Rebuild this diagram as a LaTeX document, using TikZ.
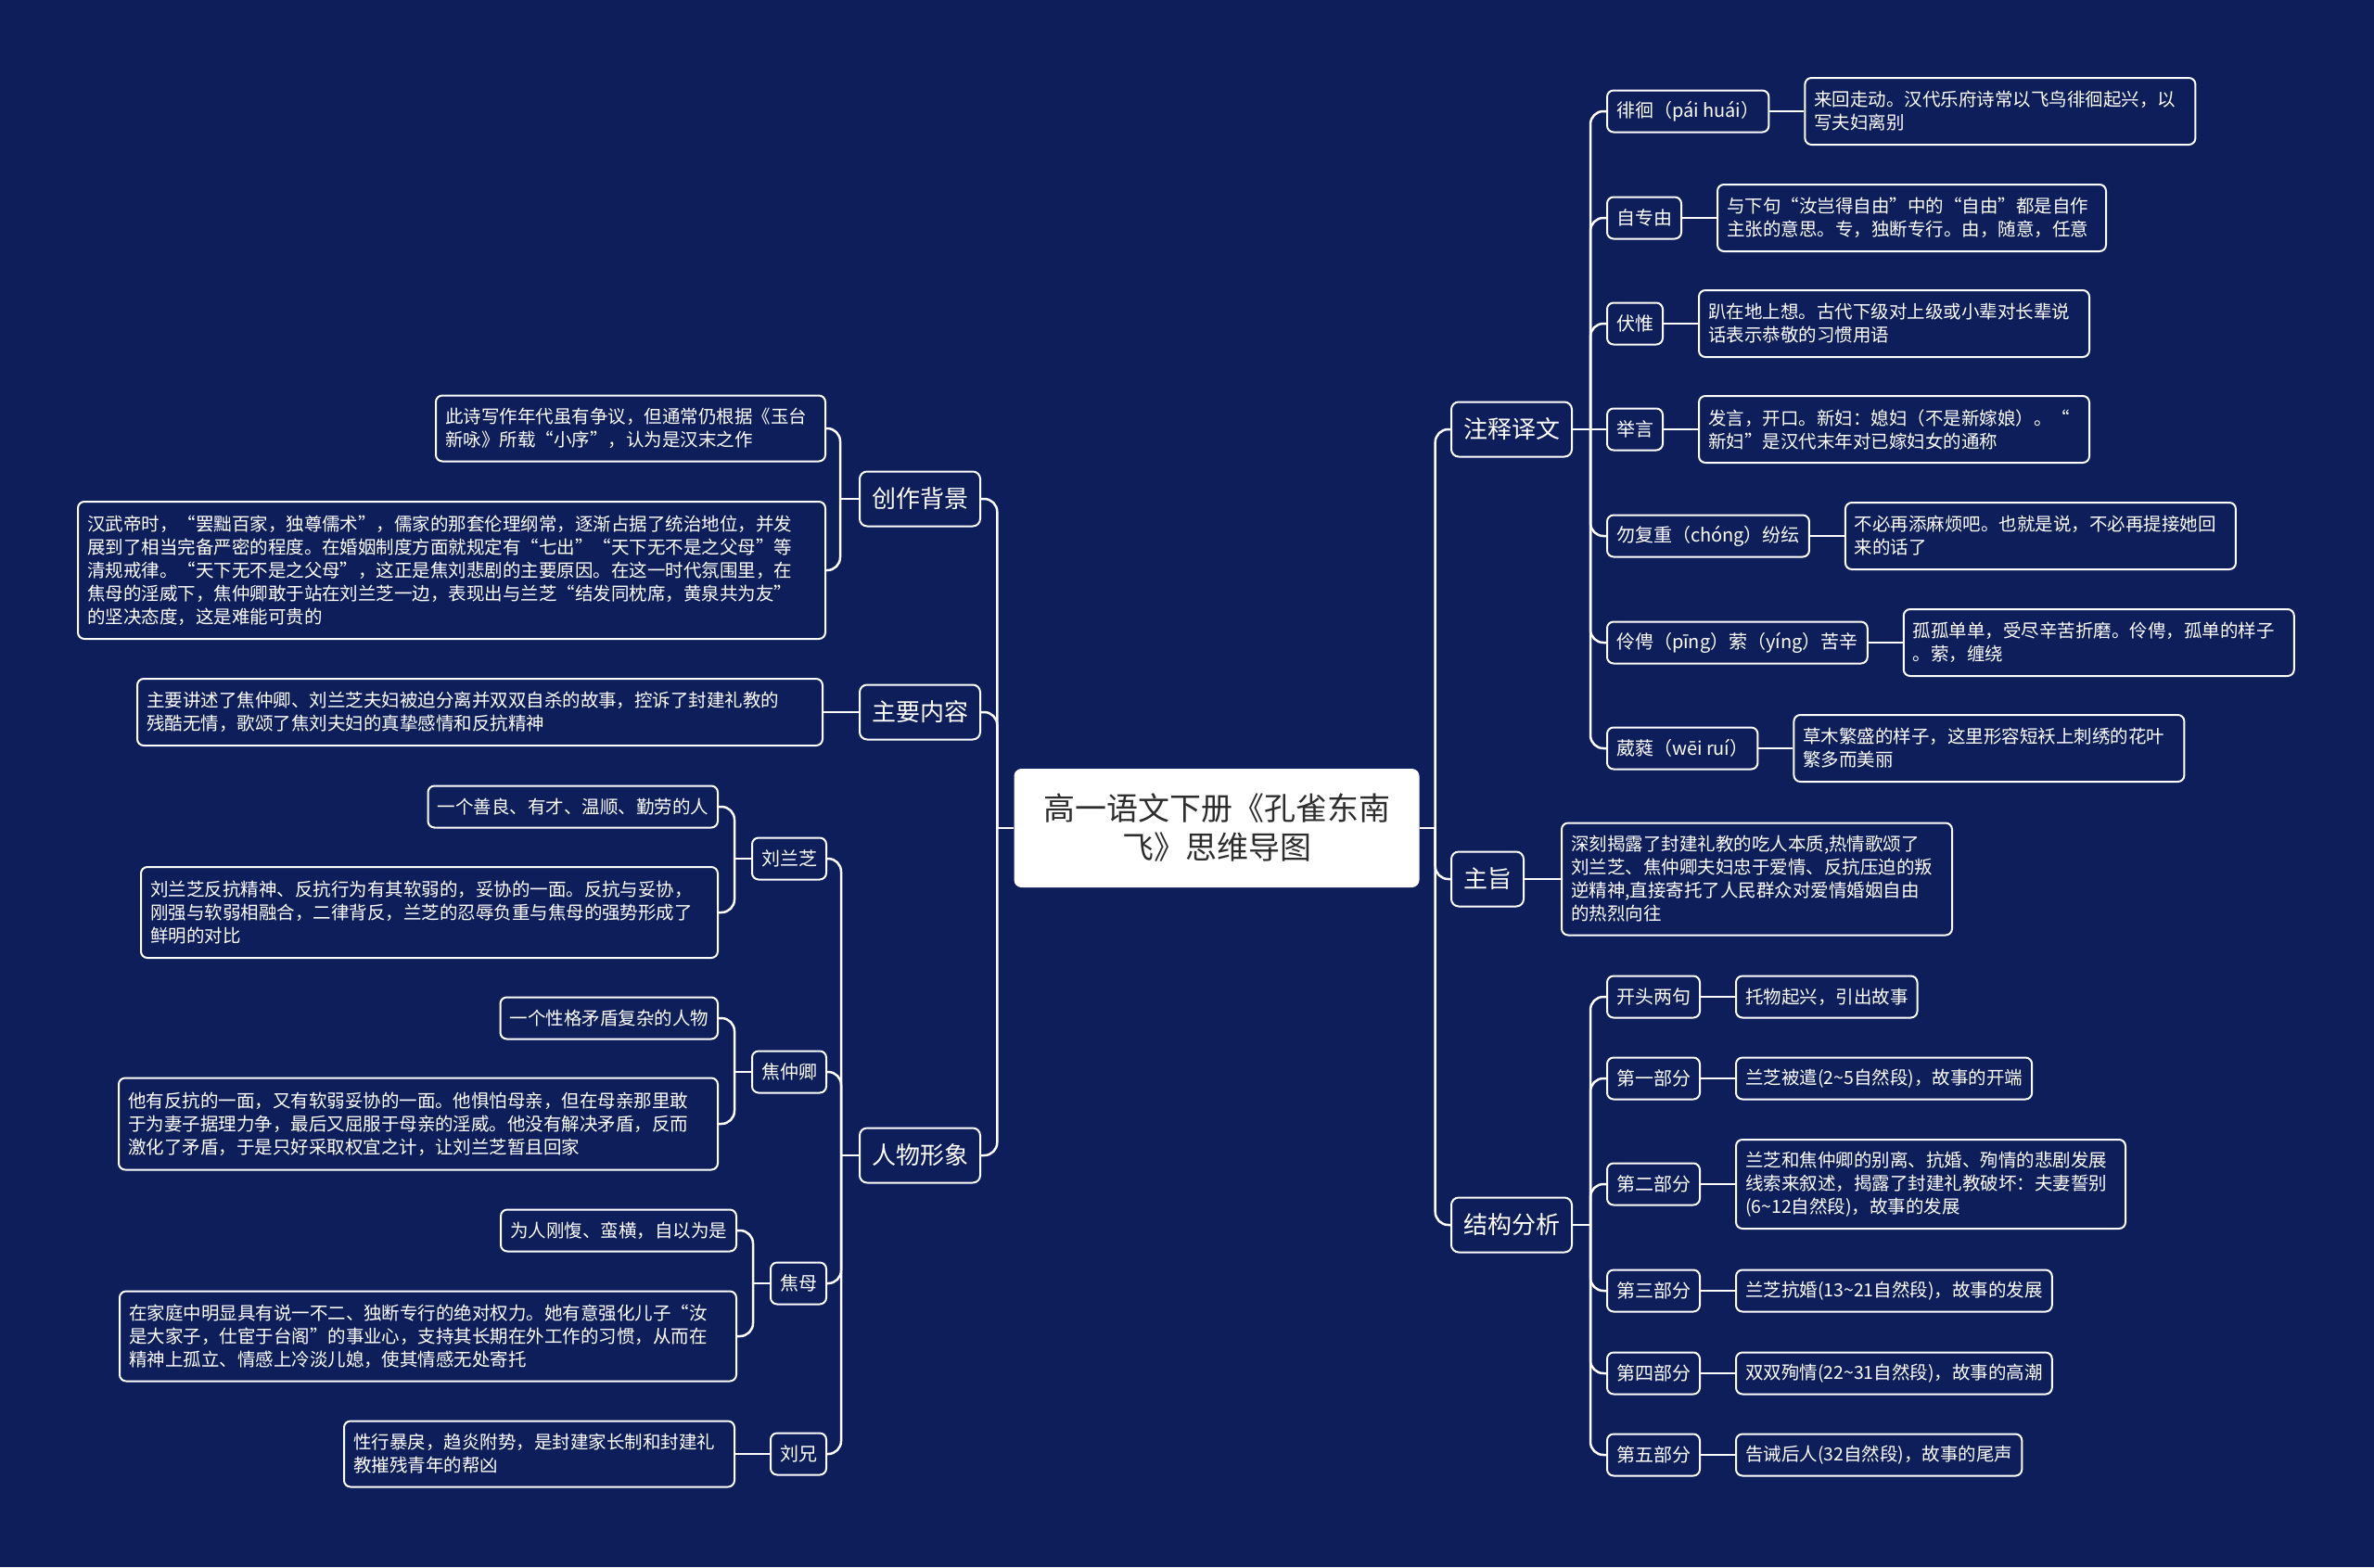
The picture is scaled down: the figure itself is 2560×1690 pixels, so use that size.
\documentclass[tikz,border=0pt]{standalone}
\usepackage{fontspec}
\setmainfont{Noto Sans CJK SC}
\usepackage{tikz}
\usetikzlibrary{positioning, calc}
\definecolor{mapbg}{RGB}{13,30,90}
\definecolor{rootink}{RGB}{45,45,45}
\tikzset{
  rootbox/.style={
    rectangle, fill=white, rounded corners=8pt,
    minimum width=437pt, minimum height=128pt,
    text width=400pt, align=center, text=rootink,
    font=\fontsize{34}{42}\selectfont
  },
  topicbox/.style={
    rectangle, draw=white, fill=mapbg, line width=2pt,
    rounded corners=8pt, inner xsep=13pt, inner ysep=4pt,
    minimum height=59pt, text=white,
    font=\fontsize{26}{32}\selectfont
  },
  subbox/.style={
    rectangle, draw=white, fill=mapbg, line width=2pt,
    rounded corners=7pt, inner xsep=10pt, inner ysep=4pt,
    minimum height=45pt, text=white,
    font=\fontsize{20}{25}\selectfont
  },
  notebox/.style={
    rectangle, draw=white, fill=mapbg, line width=2pt,
    rounded corners=7pt, inner xsep=10pt, inner ysep=4pt,
    minimum height=45pt, text=white, align=left,
    font=\fontsize{19.5}{25}\selectfont
  },
  branch/.style={draw=white, line width=2.5pt},
  curvelink/.style={branch, rounded corners=14pt},
}

\begin{document}
\begin{tikzpicture}[x=1pt, y=-1pt, node distance=37pt]

		%% Canvas
		\fill[mapbg] (0,0) rectangle (2560,1690);
		\useasboundingbox (0,0) rectangle (2560,1690);

		%% Root
		\node[rootbox] (root) at (1312,893) {高一语文下册《孔雀东南\\飞》思维导图};

		%% Main topics
		\node[topicbox, anchor=west] (zs) at (1564,463)  {注释译文};
		\node[topicbox, anchor=west] (zz) at (1564,948)  {主旨};
		\node[topicbox, anchor=west] (jg) at (1564,1321) {结构分析};
		\node[topicbox, anchor=east] (cz) at (1058,538)  {创作背景};
		\node[topicbox, anchor=east] (zy) at (1058,768)  {主要内容};
		\node[topicbox, anchor=east] (rw) at (1058,1246) {人物形象};

		%% 注释译文
		\node[subbox, anchor=west] (zs1) at (1732,120) {徘徊（pái huái）};
		\node[subbox, anchor=west] (zs2) at (1732,235) {自专由};
		\node[subbox, anchor=west] (zs3) at (1732,349) {伏惟};
		\node[subbox, anchor=west] (zs4) at (1732,463) {举言};
		\node[subbox, anchor=west] (zs5) at (1732,578) {勿复重（chóng）纷纭};
		\node[subbox, anchor=west] (zs6) at (1732,693) {伶俜（pīng）萦（yíng）苦辛};
		\node[subbox, anchor=west] (zs7) at (1732,807) {葳蕤（wēi ruí）};

		\node[notebox, text width=401pt, minimum height=72pt, right=of zs1]
		(zs1n) {来回走动。汉代乐府诗常以飞鸟徘徊起兴，以\\写夫妇离别};
		\node[notebox, text width=399pt, minimum height=72pt, right=of zs2]
		(zs2n) {与下句“汝岂得自由”中的“自由”都是自作\\主张的意思。专，独断专行。由，随意，任意};
		\node[notebox, text width=401pt, minimum height=72pt, right=of zs3]
		(zs3n) {趴在地上想。古代下级对上级或小辈对长辈说\\话表示恭敬的习惯用语};
		\node[notebox, text width=401pt, minimum height=72pt, right=of zs4]
		(zs4n) {发言，开口。新妇：媳妇（不是新嫁娘）。“\\新妇”是汉代末年对已嫁妇女的通称};
		\node[notebox, text width=401pt, minimum height=72pt, right=of zs5]
		(zs5n) {不必再添麻烦吧。也就是说，不必再提接她回\\来的话了};
		\node[notebox, text width=401pt, minimum height=72pt, right=of zs6]
		(zs6n) {孤孤单单，受尽辛苦折磨。伶俜，孤单的样子\\。萦，缠绕};
		\node[notebox, text width=401pt, minimum height=72pt, right=of zs7]
		(zs7n) {草木繁盛的样子，这里形容短袄上刺绣的花叶\\繁多而美丽};

		%% 主旨
		\node[notebox, text width=401pt, minimum height=121pt, right=39pt of zz]
		(zzn) {深刻揭露了封建礼教的吃人本质,热情歌颂了\\刘兰芝、焦仲卿夫妇忠于爱情、反抗压迫的叛\\逆精神,直接寄托了人民群众对爱情婚姻自由\\的热烈向往};

		%% 结构分析
		\node[subbox, anchor=west] (jg1) at (1732,1075) {开头两句};
		\node[subbox, anchor=west] (jg2) at (1732,1163) {第一部分};
		\node[subbox, anchor=west] (jg3) at (1732,1277) {第二部分};
		\node[subbox, anchor=west] (jg4) at (1732,1392) {第三部分};
		\node[subbox, anchor=west] (jg5) at (1732,1481) {第四部分};
		\node[subbox, anchor=west] (jg6) at (1732,1569) {第五部分};

		\node[notebox, right=of jg1] (jg1n) {托物起兴，引出故事};
		\node[notebox, right=of jg2] (jg2n) {兰芝被遣(2\textasciitilde 5自然段)，故事的开端};
		\node[notebox, text width=400pt, minimum height=96pt, right=of jg3]
		(jg3n) {兰芝和焦仲卿的别离、抗婚、殉情的悲剧发展\\线索来叙述，揭露了封建礼教破坏：夫妻誓别\\(6\textasciitilde 12自然段)，故事的发展};
		\node[notebox, right=of jg4] (jg4n) {兰芝抗婚(13\textasciitilde 21自然段)，故事的发展};
		\node[notebox, right=of jg5] (jg5n) {双双殉情(22\textasciitilde 31自然段)，故事的高潮};
		\node[notebox, right=of jg6] (jg6n) {告诫后人(32自然段)，故事的尾声};

		%% 创作背景
		\node[notebox, anchor=east, text width=400pt, minimum height=71pt]
		(cz1n) at (891,462) {此诗写作年代虽有争议，但通常仍根据《玉台\\新咏》所载“小序”，认为是汉末之作};
		\node[notebox, anchor=east, text width=786pt, minimum height=148pt]
		(cz2n) at (891,615) {汉武帝时，“罢黜百家，独尊儒术”，儒家的那套伦理纲常，逐渐占据了统治地位，并发\\展到了相当完备严密的程度。在婚姻制度方面就规定有“七出”“天下无不是之父母”等\\清规戒律。“天下无不是之父母”，这正是焦刘悲剧的主要原因。在这一时代氛围里，在\\焦母的淫威下，焦仲卿敢于站在刘兰芝一边，表现出与兰芝“结发同枕席，黄泉共为友”\\的坚决态度，这是难能可贵的};

		%% 主要内容
		\node[notebox, text width=719pt, minimum height=72pt, left=38pt of zy]
		(zyn) {主要讲述了焦仲卿、刘兰芝夫妇被迫分离并双双自杀的故事，控诉了封建礼教的\\残酷无情，歌颂了焦刘夫妇的真挚感情和反抗精神};

		%% 人物形象
		\node[subbox, anchor=east] (lz) at (892,926)  {刘兰芝};
		\node[subbox, anchor=east] (jz) at (892,1156) {焦仲卿};
		\node[subbox, anchor=east] (jm) at (892,1384) {焦母};
		\node[subbox, anchor=east] (lx) at (892,1568) {刘兄};

		\node[notebox, anchor=east] (lz1) at (775,870) {一个善良、有才、温顺、勤劳的人};
		\node[notebox, anchor=east, text width=602pt, minimum height=98pt]
		(lz2) at (775,984) {刘兰芝反抗精神、反抗行为有其软弱的，妥协的一面。反抗与妥协，\\刚强与软弱相融合，二律背反，兰芝的忍辱负重与焦母的强势形成了\\鲜明的对比};
		\node[notebox, anchor=east] (jz1) at (775,1098) {一个性格矛盾复杂的人物};
		\node[notebox, anchor=east, text width=626pt, minimum height=99pt]
		(jz2) at (775,1212) {他有反抗的一面，又有软弱妥协的一面。他惧怕母亲，但在母亲那里敢\\于为妻子据理力争，最后又屈服于母亲的淫威。他没有解决矛盾，反而\\激化了矛盾，于是只好采取权宜之计，让刘兰芝暂且回家};
		\node[notebox, anchor=east] (jm1) at (795,1327) {为人刚愎、蛮横，自以为是};
		\node[notebox, anchor=east, text width=645pt, minimum height=97pt]
		(jm2) at (795,1441) {在家庭中明显具有说一不二、独断专行的绝对权力。她有意强化儿子“汝\\是大家子，仕宦于台阁”的事业心，支持其长期在外工作的习惯，从而在\\精神上孤立、情感上冷淡儿媳，使其情感无处寄托};
		\node[notebox, text width=401pt, minimum height=71pt, left=of lx]
		(lx1) {性行暴戾，趋炎附势，是封建家长制和封建礼\\教摧残青年的帮凶};

		%% Root links
		\coordinate (rootR) at ([xshift=17pt]root.east);
		\coordinate (rootL) at ([xshift=-18pt]root.west);
		\draw[branch] (root.east) -- (rootR);
		\draw[branch] (root.west) -- (rootL);
		\foreach \t in {zs,zz,jg}
		\draw[curvelink] (rootR) |- (\t.west);
		\foreach \t in {cz,zy,rw}
		\draw[curvelink] (rootL) |- (\t.east);

		%% Right links
		\coordinate (zsT) at ([xshift=19pt]zs.east);
		\draw[branch] (zs.east) -- (zsT);
		\foreach \c in {zs1,zs2,zs3,zs5,zs6,zs7}
		\draw[curvelink] (zsT) |- (\c.west);
		\draw[branch] (zsT) -- (zs4.west);

		\coordinate (jgT) at ([xshift=19pt]jg.east);
		\draw[branch] (jg.east) -- (jgT);
		\foreach \c in {jg1,jg2,jg3,jg4,jg5,jg6}
		\draw[curvelink] (jgT) |- (\c.west);

		\foreach \from/\to in {zs1/zs1n, zs2/zs2n, zs3/zs3n, zs4/zs4n, zs5/zs5n,
				zs6/zs6n, zs7/zs7n, zz/zzn, jg1/jg1n, jg2/jg2n, jg3/jg3n,
				jg4/jg4n, jg5/jg5n, jg6/jg6n}
		\draw[branch] (\from) -- (\to);

		%% Left links
		\coordinate (czT) at ([xshift=-20pt]cz.west);
		\draw[branch] (cz.west) -- (czT);
		\foreach \c in {cz1n,cz2n}
		\draw[curvelink] (czT) |- (\c.east);
		\draw[branch] (zy) -- (zyn);

		\coordinate (rwT) at ([xshift=-19pt]rw.west);
		\draw[branch] (rw.west) -- (rwT);
		\foreach \c in {lz,jz,jm,lx}
		\draw[curvelink] (rwT) |- (\c.east);

		\foreach \p/\a/\b in {lz/lz1/lz2, jz/jz1/jz2, jm/jm1/jm2} {
			\coordinate (\p T) at ([xshift=-18pt]\p.west);
			\draw[branch] (\p.west) -- (\p T);
			\draw[curvelink] (\p T) |- (\a.east);
			\draw[curvelink] (\p T) |- (\b.east);
		}
		\draw[branch] (lx) -- (lx1);

	\end{tikzpicture}
\end{document}
